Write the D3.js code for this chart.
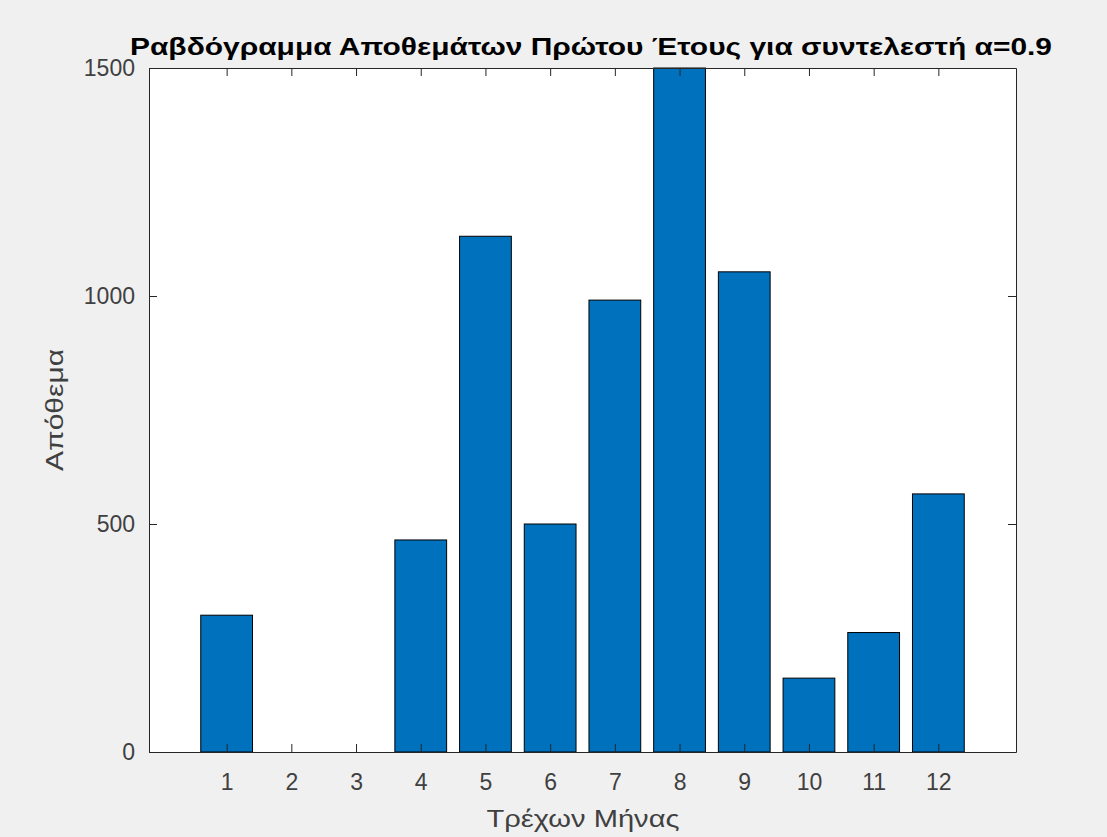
<!DOCTYPE html>
<html>
<head>
<meta charset="utf-8">
<script src="https://cdn.jsdelivr.net/npm/d3@7"></script>
<style>
  body { margin: 0; background: #f0f0f0; }
  svg { display: block; }
</style>
</head>
<body>
<div id="chart_container"></div>
<script>
// data
const months = [1, 2, 3, 4, 5, 6, 7, 8, 9, 10, 11, 12]
const stock = [300, 0, 0, 465, 1131, 500, 991, 1500, 1053, 162, 262, 566]
const yTicks = [0, 500, 1000, 1500]

const titleText = "Ραβδόγραμμα Αποθεμάτων Πρώτου Έτους για συντελεστή α=0.9"
const xLabel = "Τρέχων Μήνας"
const yLabel = "Απόθεμα"

// layout
const W = 1107, H = 837
const plotLeft = 149, plotRight = 1016, plotTop = 68, plotBottom = 752
const axisColor = "#262626"
const textColor = "#404040"
const barColor = "#0072bd"
const font = "'Liberation Sans', Arial, sans-serif"
const tickLen = 8

const svg = d3.select("#chart_container").append("svg")
  .attr("width", W).attr("height", H)

svg.append("rect").attr("width", W).attr("height", H).attr("fill", "#f0f0f0")

const x = d3.scaleLinear().domain([-0.2, 13.2]).range([plotLeft, plotRight])
const y = d3.scaleLinear().domain([0, 1500]).range([plotBottom, plotTop])
const barW = x(0.8) - x(0)

// plot area
svg.append("rect")
  .attr("x", plotLeft).attr("y", plotTop)
  .attr("width", plotRight - plotLeft).attr("height", plotBottom - plotTop)
  .attr("fill", "#fff")

// bars
svg.append("g").selectAll("rect")
  .data(months)
  .join("rect")
  .attr("x", (d) => x(d) - barW / 2)
  .attr("y", (d, i) => y(stock[i]))
  .attr("width", barW)
  .attr("height", (d, i) => y(0) - y(stock[i]))
  .attr("fill", barColor)
  .attr("stroke", (d, i) => stock[i] > 0 ? "#000" : "none")
  .attr("stroke-width", 1)

// axes (ticks pointing inward, box on)
const axB = svg.append("g").attr("transform", `translate(0,${plotBottom})`)
  .call(d3.axisBottom(x).tickValues(months).tickSizeInner(-tickLen).tickSizeOuter(0).tickPadding(22))
const axT = svg.append("g").attr("transform", `translate(0,${plotTop})`)
  .call(d3.axisTop(x).tickValues(months).tickSizeInner(-tickLen).tickSizeOuter(0).tickFormat(""))
const axL = svg.append("g").attr("transform", `translate(${plotLeft},0)`)
  .call(d3.axisLeft(y).tickValues(yTicks).tickFormat(d3.format("d")).tickSizeInner(-tickLen).tickSizeOuter(0).tickPadding(14))
const axR = svg.append("g").attr("transform", `translate(${plotRight},0)`)
  .call(d3.axisRight(y).tickValues(yTicks).tickSizeInner(-tickLen).tickSizeOuter(0).tickFormat(""))

;[axB, axT, axL, axR].forEach(g => {
  g.select(".domain").attr("stroke", axisColor)
  g.selectAll(".tick line").attr("stroke", axisColor)
  g.selectAll(".tick text")
    .attr("fill", textColor)
    .style("font-family", font)
    .style("font-size", "23px")
})

// titles
svg.append("text")
  .attr("x", 591)
  .attr("y", 55)
  .attr("text-anchor", "middle")
  .attr("textLength", 922)
  .attr("lengthAdjust", "spacingAndGlyphs")
  .style("font-family", font)
  .style("font-size", "23px")
  .style("font-weight", "bold")
  .attr("fill", "#000")
  .text(titleText)

svg.append("text")
  .attr("x", 583)
  .attr("y", 827)
  .attr("text-anchor", "middle")
  .attr("textLength", 193)
  .attr("lengthAdjust", "spacingAndGlyphs")
  .style("font-family", font)
  .style("font-size", "24px")
  .attr("fill", textColor)
  .text(xLabel)

svg.append("text")
  .attr("transform", `translate(63,${(plotTop + plotBottom) / 2}) rotate(-90)`)
  .attr("text-anchor", "middle")
  .attr("textLength", 122)
  .attr("lengthAdjust", "spacingAndGlyphs")
  .style("font-family", font)
  .style("font-size", "24px")
  .attr("fill", textColor)
  .text(yLabel)
</script>
</body>
</html>
